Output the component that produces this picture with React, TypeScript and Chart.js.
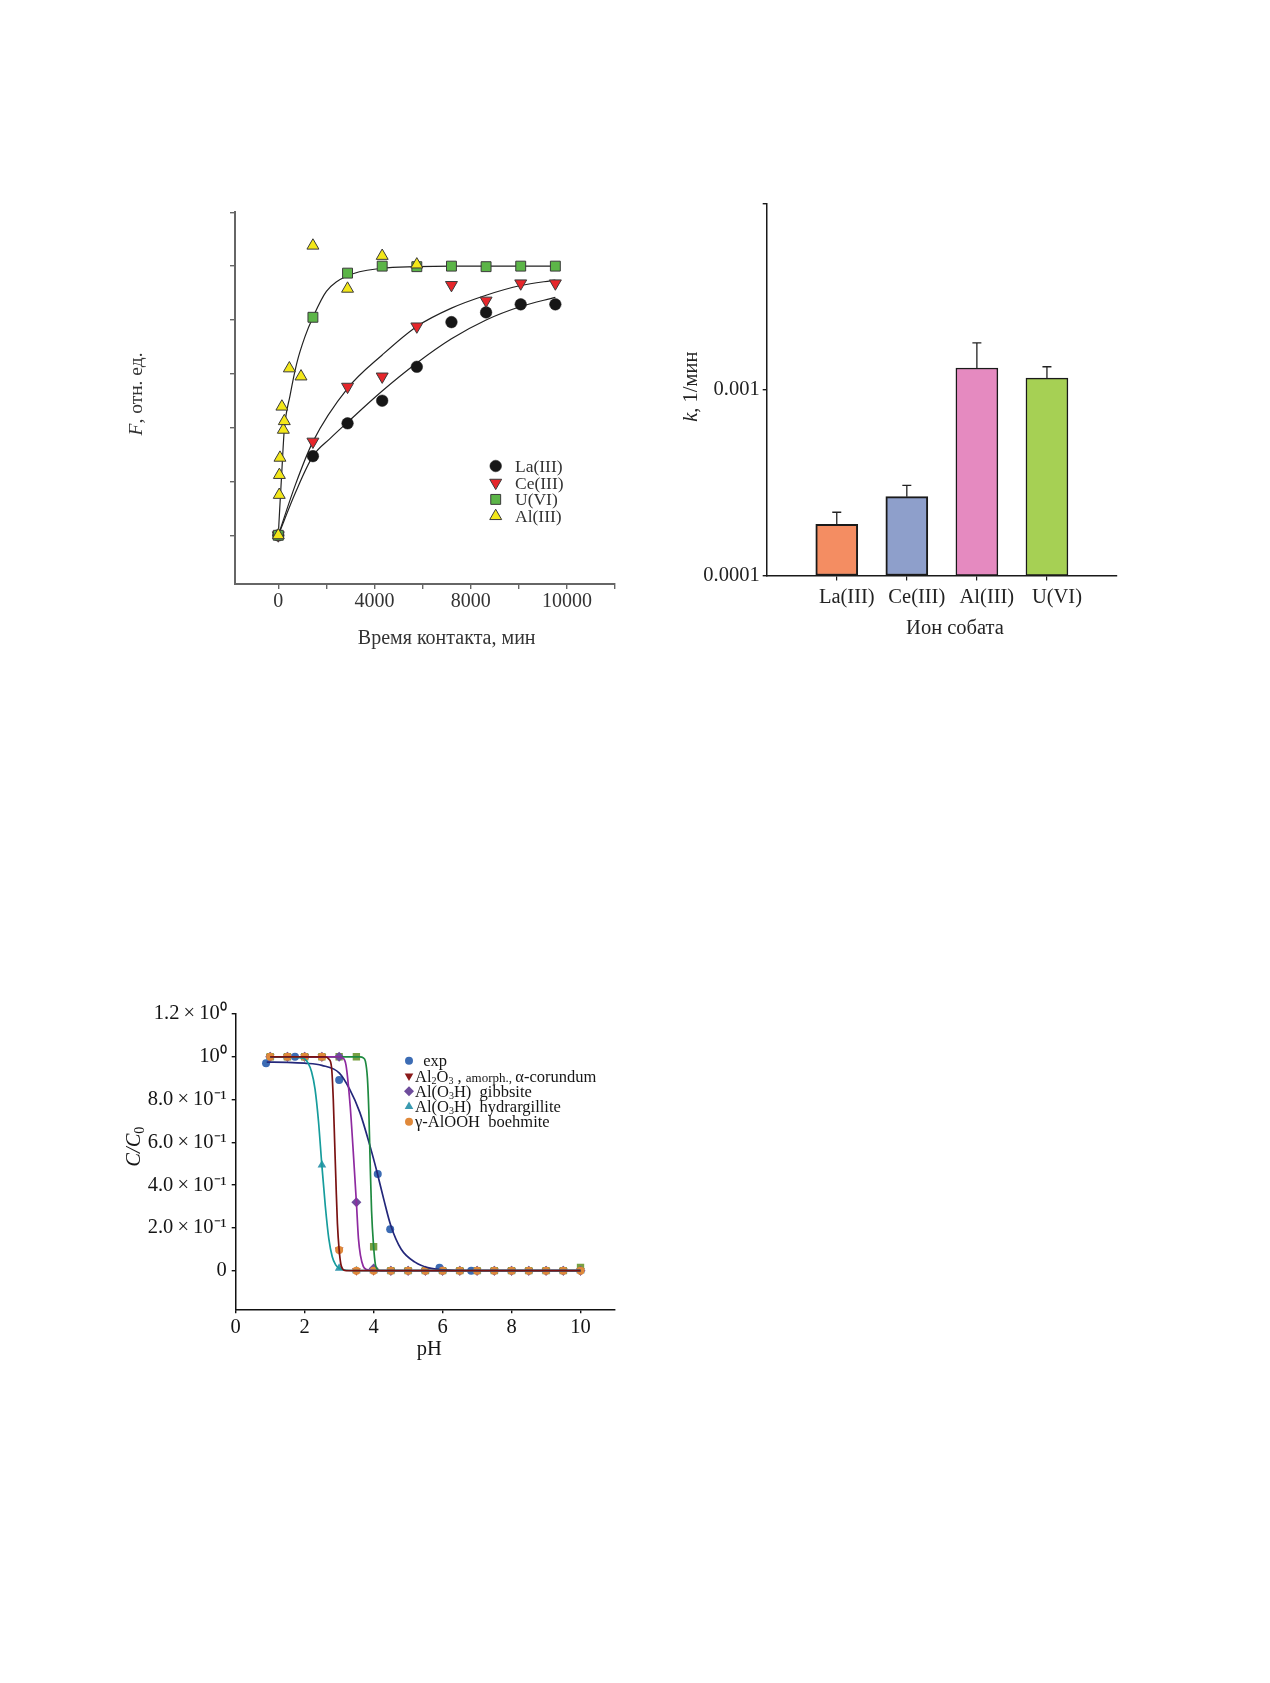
import React, { useEffect, useRef } from 'react';
import { Chart, registerables } from 'chart.js';
import { drawPoint } from 'chart.js/helpers';

Chart.register(...registerables);

const FONT = "'Liberation Serif', 'Times New Roman', Times, serif";

// ---------- Figure 1: kinetics (F vs contact time) ----------
const kinTimes = [0, 1440, 2880, 4320, 5760, 7200, 8640, 10080, 11520];
const laValues = [0, 1.47, 2.08, 2.5, 3.13, 3.96, 4.14, 4.29, 4.29];
const ceValues = [0, 1.74, 2.76, 2.95, 3.88, 4.65, 4.36, 4.68, 4.68];
const uValues = [0, 4.05, 4.87, 5.0, 4.99, 5.0, 4.99, 5.0, 5.0];
const alTimes = [0, 40, 45, 70, 150, 210, 250, 460, 945, 1440, 2880, 4320, 5760];
const alValues = [0, 0.75, 1.12, 1.44, 2.39, 1.96, 2.12, 3.1, 2.95, 5.38, 4.58, 5.19, 5.03];
const laFitTimes = [0, 720, 1440, 2160, 2880, 4320, 5760, 7200, 8640, 10080, 11520];
const laFitValues = [0, 0.8, 1.47, 1.8, 2.1, 2.68, 3.2, 3.65, 4.0, 4.25, 4.42];
const ceFitTimes = [0, 720, 1440, 2880, 4320, 5760, 7200, 8640, 10080, 11520];
const ceFitValues = [0, 0.95, 1.74, 2.73, 3.35, 3.88, 4.22, 4.46, 4.64, 4.74];
const uFitTimes = [0, 60, 130, 250, 490, 770, 1110, 1440, 2000, 2880, 4300, 5760, 7200, 8640, 10080, 11520];
const uFitValues = [0, 0.5, 1.05, 1.96, 2.6, 3.2, 3.69, 4.05, 4.53, 4.82, 4.96, 4.99, 5.0, 5.0, 5.0, 5.0];
const kinXTickValues = [0, 2000, 4000, 6000, 8000, 10000, 12000, 14000];
const kinXLabelValues = [0, 4000, 8000, 12000];
const kinXLabelTexts = ['0', '4000', '8000', '10000'];
const kinYTickValues = [0, 1, 2, 3, 4, 5, 6];
const kinLegendLabels = ['La(III)', 'Ce(III)', 'U(VI)', 'Al(III)'];

// ---------- Figure 2: rate constants ----------
const ionCategories = ['La(III)', 'Ce(III)', 'Al(III)', 'U(VI)'];
const rateValues = [1.886e-4, 2.656e-4, 1.309e-3, 1.156e-3];
const rateErrorTops = [2.19e-4, 3.055e-4, 1.79e-3, 1.33e-3];
const rateTickValues = [1e-4, 1e-3, 1e-2];
const rateTickLabels = ['0.0001', '0.001', ''];

// ---------- Figure 3: C/C0 vs pH ----------
const phPoints = [1.0, 1.5, 2.0, 2.5, 3.0, 3.5, 4.0, 4.5, 5.0, 5.5, 6.0, 6.5, 7.0, 7.5, 8.0, 8.5, 9.0, 9.5, 10.0];
const corundumValues = [1, 1, 1, 1, 0.097, 0, 0, 0, 0, 0, 0, 0, 0, 0, 0, 0, 0, 0, 0];
const gibbsiteValues = [1, 1, 1, 1, 1, 0.32, 0.01, 0, 0, 0, 0, 0, 0, 0, 0, 0, 0, 0, 0];
const hydrargilliteValues = [1, 1, 1, 0.494, 0.011, 0, 0, 0, 0, 0, 0, 0, 0, 0, 0, 0, 0, 0, 0];
const boehmiteValues = [1, 1, 1, 1, 0.097, 0, 0, 0, 0, 0, 0, 0, 0, 0, 0, 0, 0, 0, 0];
const greenValues = [1, 1, 1, 1, 1, 1, 0.112, 0, 0, 0, 0, 0, 0, 0, 0, 0, 0, 0, 0.015];
const expPh = [0.88, 1.72, 3.0, 4.12, 4.48, 5.91, 6.83];
const expValues = [0.97, 1.0, 0.892, 0.452, 0.194, 0.014, 0.0];
const expFitPh = [0.9, 1.5, 2.0, 2.5, 3.0, 3.3, 3.6, 3.9, 4.1, 4.3, 4.5, 4.8, 5.2, 5.6, 6.0, 7.0, 10.0];
const expFitValues = [0.975, 0.974, 0.97, 0.96, 0.925, 0.85, 0.74, 0.58, 0.46, 0.33, 0.21, 0.1, 0.04, 0.013, 0.004, 0, 0];
const hydFitPh = [1.0, 1.9, 2.0, 2.1, 2.2, 2.3, 2.4, 2.5, 2.6, 2.7, 2.8, 2.9, 3.0, 3.2, 3.4, 10.0];
const hydFitValues = [1, 0.995, 0.99, 0.97, 0.93, 0.85, 0.7, 0.49, 0.3, 0.15, 0.065, 0.027, 0.011, 0.002, 0, 0];
const corFitPh = [1.0, 2.6, 2.7, 2.78, 2.83, 2.87, 2.91, 2.95, 3.0, 3.05, 3.1, 3.2, 10.0];
const corFitValues = [1, 1, 0.99, 0.95, 0.8, 0.6, 0.4, 0.22, 0.097, 0.03, 0.008, 0, 0];
const gibFitPh = [1.0, 3.0, 3.1, 3.2, 3.32, 3.4, 3.5, 3.56, 3.62, 3.7, 3.8, 4.0, 10.0];
const gibFitValues = [1, 1, 0.995, 0.96, 0.77, 0.58, 0.32, 0.15, 0.07, 0.02, 0.005, 0, 0];
const grnFitPh = [1.0, 3.6, 3.7, 3.76, 3.82, 3.86, 3.9, 3.94, 4.0, 4.05, 4.1, 4.2, 10.0];
const grnFitValues = [1, 1, 0.995, 0.98, 0.9, 0.75, 0.5, 0.28, 0.112, 0.03, 0.008, 0, 0];
const phTickValues = [0, 2, 4, 6, 8, 10];
const phTickLabels = ['0', '2', '4', '6', '8', '10'];
const ratioTickValues = [0, 0.2, 0.4, 0.6, 0.8, 1.0, 1.2];
const ratioTickLabels = ['0', '2.0\u2009×\u200910⁻¹', '4.0\u2009×\u200910⁻¹', '6.0\u2009×\u200910⁻¹', '8.0\u2009×\u200910⁻¹', '10⁰', '1.2\u2009×\u200910⁰'];

// ---------- styles ----------
const barColors = ['#F48D62', '#8E9FCB', '#E58AC0', '#A6D054'];
const barBorderWidths = [2, 2, 1.5, 1.5];

type Seg = { t: string; size?: number; italic?: boolean; dy?: number };
type TextItem = { segs: Seg[]; x: number; y: number; size: number; rotate?: boolean; align?: 'left' | 'center'; color: string };

function drawRich(ctx: CanvasRenderingContext2D, item: TextItem) {
  ctx.save();
  ctx.translate(item.x, item.y);
  if (item.rotate) ctx.rotate(-Math.PI / 2);
  ctx.textBaseline = 'alphabetic';
  ctx.textAlign = 'left';
  ctx.fillStyle = item.color;
  const fonts = item.segs.map((s) => `${s.italic ? 'italic ' : ''}${s.size ?? item.size}px ${FONT}`);
  const widths = item.segs.map((s, i) => {
    ctx.font = fonts[i];
    return ctx.measureText(s.t).width;
  });
  const total = widths.reduce((a, b) => a + b, 0);
  let cx = item.align === 'left' ? 0 : -total / 2;
  const base = item.size * 0.34;
  item.segs.forEach((s, i) => {
    ctx.font = fonts[i];
    ctx.fillText(s.t, cx, base + (s.dy ?? 0));
    cx += widths[i];
  });
  ctx.restore();
}

function marker(ctx: CanvasRenderingContext2D, style: string, x: number, y: number, radius: number, fill: string, stroke: string, bw: number, rotation = 0) {
  ctx.save();
  ctx.fillStyle = fill;
  ctx.strokeStyle = stroke;
  ctx.lineWidth = bw;
  drawPoint(ctx, { pointStyle: style as any, rotation, radius, borderWidth: bw } as any, x, y);
  ctx.restore();
}

const pts = (xs: number[], ys: number[]) => xs.map((x, i) => ({ x, y: ys[i] }));

function axisStyle(color: string, width: number, tickLen: number) {
  return {
    grid: { display: true, drawOnChartArea: false, drawTicks: true, tickLength: tickLen, color, lineWidth: 1.4 },
    border: { display: true, color, width },
  };
}

// ---------- Chart configs ----------
function kineticsConfig(): any {
  const axisColor = '#666666';
  const textColor = '#333333';
  return {
    type: 'scatter',
    data: {
      datasets: [
        { data: pts(alTimes, alValues), pointStyle: 'triangle', pointRadius: 6.9, backgroundColor: '#F3E719', borderColor: '#3a3a3a', borderWidth: 1 },
        { data: pts(kinTimes, uValues), pointStyle: 'rect', pointRadius: 7.0, backgroundColor: '#5CB548', borderColor: '#3a3a3a', borderWidth: 1 },
        { data: pts(kinTimes, ceValues), pointStyle: 'triangle', pointRotation: 180, pointRadius: 6.9, backgroundColor: '#E6262B', borderColor: '#3a3a3a', borderWidth: 1 },
        { data: pts(kinTimes, laValues), pointStyle: 'circle', pointRadius: 5.8, backgroundColor: '#161616', borderColor: '#161616', borderWidth: 0.5 },
        { data: pts(uFitTimes, uFitValues), showLine: true, pointRadius: 0, borderColor: '#222', borderWidth: 1.2, cubicInterpolationMode: 'monotone' },
        { data: pts(ceFitTimes, ceFitValues), showLine: true, pointRadius: 0, borderColor: '#222', borderWidth: 1.2, cubicInterpolationMode: 'monotone' },
        { data: pts(laFitTimes, laFitValues), showLine: true, pointRadius: 0, borderColor: '#222', borderWidth: 1.2, cubicInterpolationMode: 'monotone' },
      ],
    },
    options: {
      animation: false,
      responsive: true,
      maintainAspectRatio: false,
      events: [],
      layout: { autoPadding: false, padding: { top: 22.3, right: 25, left: 0, bottom: 0 } },
      plugins: { legend: { display: false }, tooltip: { enabled: false } },
      scales: {
        x: {
          type: 'linear', min: -1800, max: 14000,
          afterBuildTicks: (s: any) => { s.ticks = kinXTickValues.map((v) => ({ value: v })); },
          afterFit: (s: any) => { s.height = 86; },
          ticks: {
            autoSkip: false, maxRotation: 0, padding: 1, color: textColor, font: { family: FONT, size: 20 },
            callback: (v: number) => { const i = kinXLabelValues.indexOf(v); return i >= 0 ? kinXLabelTexts[i] : ''; },
          },
          ...axisStyle(axisColor, 2, 5),
        },
        y: {
          type: 'linear', min: -0.905, max: 6,
          afterBuildTicks: (s: any) => { s.ticks = kinYTickValues.map((v) => ({ value: v })); },
          afterFit: (s: any) => { s.width = 135; },
          ticks: { display: false },
          ...axisStyle(axisColor, 2, 5),
        },
      },
    },
    plugins: [{
      id: 'decor',
      afterDraw(chart: any) {
        const ctx = chart.ctx as CanvasRenderingContext2D;
        drawRich(ctx, { segs: [{ t: 'F', italic: true }, { t: ', отн. ед.' }], x: 35, y: 204, size: 19.5, rotate: true, color: textColor });
        drawRich(ctx, { segs: [{ t: 'Время контакта, мин' }], x: 346.7, y: 447, size: 20, color: textColor });
        const rowY = [276, 292.7, 309.4, 326.1];
        const mk = [
          () => marker(ctx, 'circle', 395.7, rowY[0], 5.8, '#161616', '#161616', 0.5),
          () => marker(ctx, 'triangle', 395.7, rowY[1], 6.9, '#E6262B', '#3a3a3a', 1, 180),
          () => marker(ctx, 'rect', 395.7, rowY[2], 7.0, '#5CB548', '#3a3a3a', 1),
          () => marker(ctx, 'triangle', 395.7, rowY[3], 6.9, '#F3E719', '#3a3a3a', 1),
        ];
        kinLegendLabels.forEach((lab, i) => {
          mk[i]();
          drawRich(ctx, { segs: [{ t: lab }], x: 415, y: rowY[i], size: 17.5, align: 'left', color: textColor });
        });
      },
    }],
  };
}

function rateConfig(): any {
  const axisColor = '#1a1a1a';
  const textColor = '#222222';
  return {
    type: 'bar',
    data: {
      datasets: [{
        data: pts(ionCategories.map((_, i) => i + 1), rateValues),
        backgroundColor: barColors,
        borderColor: '#1a1a1a',
        borderWidth: barBorderWidths,
        borderSkipped: false,
        barThickness: 42,
      }],
    },
    options: {
      animation: false,
      responsive: true,
      maintainAspectRatio: false,
      events: [],
      layout: { autoPadding: false, padding: { top: 24, right: 43, left: 0, bottom: 0 } },
      plugins: { legend: { display: false }, tooltip: { enabled: false } },
      scales: {
        x: {
          type: 'linear', min: 0, max: 5, offset: false,
          afterBuildTicks: (s: any) => { s.ticks = ionCategories.map((_, i) => ({ value: i + 1 })); },
          afterFit: (s: any) => { s.height = 84.5; },
          ticks: {
            autoSkip: false, maxRotation: 0, padding: 4.5, labelOffset: 10, color: textColor, font: { family: FONT, size: 20.5 },
            callback: (_v: number, i: number) => ionCategories[i],
          },
          ...axisStyle(axisColor, 1.5, 5),
          grid: { display: true, offset: false, drawOnChartArea: false, drawTicks: true, tickLength: 5, color: axisColor, lineWidth: 1.2 },
        },
        y: {
          type: 'logarithmic', min: 1e-4, max: 1e-2,
          afterBuildTicks: (s: any) => { s.ticks = rateTickValues.map((v) => ({ value: v })); },
          afterFit: (s: any) => { s.width = 126.7; },
          ticks: {
            autoSkip: false, padding: 3, color: textColor, font: { family: FONT, size: 20.5 },
            callback: (_v: number, i: number) => rateTickLabels[i],
          },
          ...axisStyle(axisColor, 1.5, 4),
        },
      },
    },
    plugins: [{
      id: 'decor',
      afterDatasetsDraw(chart: any) {
        const ctx = chart.ctx as CanvasRenderingContext2D;
        const xs = chart.scales.x;
        const ys = chart.scales.y;
        ctx.save();
        ctx.strokeStyle = '#222';
        ctx.lineWidth = 1.3;
        rateValues.forEach((v, i) => {
          const x = xs.getPixelForValue(i + 1);
          const y0 = ys.getPixelForValue(v);
          const y1 = ys.getPixelForValue(rateErrorTops[i]);
          ctx.beginPath();
          ctx.moveTo(x, y0);
          ctx.lineTo(x, y1);
          ctx.moveTo(x - 4.5, y1);
          ctx.lineTo(x + 4.5, y1);
          ctx.stroke();
        });
        ctx.restore();
      },
      afterDraw(chart: any) {
        const ctx = chart.ctx as CanvasRenderingContext2D;
        drawRich(ctx, { segs: [{ t: 'k', italic: true }, { t: ', 1/мин' }], x: 50, y: 206.7, size: 20.5, rotate: true, color: textColor });
        drawRich(ctx, { segs: [{ t: 'Ион собата' }], x: 315, y: 447, size: 20.5, color: textColor });
      },
    }],
  };
}

function phConfig(): any {
  const axisColor = '#111111';
  const textColor = '#151515';
  const c = {
    expPt: '#3C6CB4', expLine: '#23277A',
    cor: '#8B1A1A', corLine: '#7A1212',
    gib: '#6E4C9C', gibLine: '#8E2AA0',
    hyd: '#3A9AB0', hydLine: '#169C9C',
    boe: '#E0893A',
    grn: '#79A043', grnLine: '#1E8A40',
  };
  const line = (xs: number[], ys: number[], color: string) => ({
    data: pts(xs, ys), showLine: true, pointRadius: 0, borderColor: color, borderWidth: 1.7, cubicInterpolationMode: 'monotone',
  });
  const dots = (xs: number[], ys: number[], style: string, color: string, r: number, rot = 0) => ({
    data: pts(xs, ys), pointStyle: style, pointRotation: rot, pointRadius: r, backgroundColor: color, borderColor: color, borderWidth: 0,
  });
  return {
    type: 'scatter',
    data: {
      datasets: [
        line(corFitPh, corFitValues, c.corLine),
        line(hydFitPh, hydFitValues, c.hydLine),
        line(gibFitPh, gibFitValues, c.gibLine),
        line(grnFitPh, grnFitValues, c.grnLine),
        line(expFitPh, expFitValues, c.expLine),
        dots(phPoints, boehmiteValues, 'circle', c.boe, 4.0),
        dots(phPoints, gibbsiteValues, 'rectRot', c.gib, 5.0),
        dots(phPoints, hydrargilliteValues, 'triangle', c.hyd, 5.0),
        dots(expPh, expValues, 'circle', c.expPt, 4.0),
        dots(phPoints, greenValues, 'rect', c.grn, 5.2),
        dots(phPoints, corundumValues, 'triangle', c.cor, 5.0, 180),
      ],
    },
    options: {
      animation: false,
      responsive: true,
      maintainAspectRatio: false,
      events: [],
      layout: { autoPadding: false, padding: { top: 24, right: 25, left: 0, bottom: 0 } },
      plugins: { legend: { display: false }, tooltip: { enabled: false } },
      scales: {
        x: {
          type: 'linear', min: 0, max: 11,
          afterBuildTicks: (s: any) => { s.ticks = phTickValues.map((v) => ({ value: v })); },
          afterFit: (s: any) => { s.height = 80.7; },
          ticks: {
            autoSkip: false, maxRotation: 0, padding: 2.5, color: textColor, font: { family: FONT, size: 20.5 },
            callback: (_v: number, i: number) => phTickLabels[i],
          },
          ...axisStyle(axisColor, 1.5, 4),
        },
        y: {
          type: 'linear', min: -0.1805, max: 1.2,
          afterBuildTicks: (s: any) => { s.ticks = ratioTickValues.map((v) => ({ value: v })); },
          afterFit: (s: any) => { s.width = 135.7; },
          ticks: {
            autoSkip: false, padding: 5, color: textColor, font: { family: FONT, size: 20.5 },
            callback: (_v: number, i: number) => ratioTickLabels[i],
          },
          ...axisStyle(axisColor, 1.5, 4),
        },
      },
    },
    plugins: [{
      id: 'decor',
      afterDraw(chart: any) {
        const ctx = chart.ctx as CanvasRenderingContext2D;
        drawRich(ctx, { segs: [{ t: 'C/C', italic: true }, { t: '0', size: 14, dy: 4 }], x: 33.3, y: 156.7, size: 20.5, rotate: true, color: textColor });
        drawRich(ctx, { segs: [{ t: 'pH' }], x: 329.3, y: 358.3, size: 20.5, color: textColor });
        const rowY = [70.7, 85.9, 101.2, 116.4, 131.7];
        const mx = 309;
        marker(ctx, 'circle', mx, rowY[0], 4, c.expPt, c.expPt, 0);
        marker(ctx, 'triangle', mx, rowY[1], 5, c.cor, c.cor, 0, 180);
        marker(ctx, 'rectRot', mx, rowY[2], 5, c.gib, c.gib, 0);
        marker(ctx, 'triangle', mx, rowY[3], 5, c.hyd, c.hyd, 0);
        marker(ctx, 'circle', mx, rowY[4], 4, c.boe, c.boe, 0);
        const sub = (t: string): Seg => ({ t, size: 10, dy: 2 });
        const legendSegs: Seg[][] = [
          [{ t: '  exp' }],
          [{ t: 'Al' }, sub('2'), { t: 'O' }, sub('3'), { t: ' , ' }, { t: 'amorph., ', size: 13 }, { t: 'α-corundum' }],
          [{ t: 'Al(O' }, sub('3'), { t: 'H)  gibbsite' }],
          [{ t: 'Al(O' }, sub('3'), { t: 'H)  hydrargillite' }],
          [{ t: 'γ-AlOOH  boehmite' }],
        ];
        legendSegs.forEach((segs, i) => {
          drawRich(ctx, { segs, x: 315, y: rowY[i], size: 16.5, align: 'left', color: textColor });
        });
      },
    }],
  };
}

function ChartBox({ left, top, width, height, make }: { left: number; top: number; width: number; height: number; make: () => any }) {
  const ref = useRef<HTMLCanvasElement | null>(null);
  useEffect(() => {
    if (!ref.current) return;
    const chart = new Chart(ref.current, make());
    return () => chart.destroy();
  }, []);
  return (
    <div style={{ position: 'absolute', left, top, width, height }}>
      <canvas ref={ref} />
    </div>
  );
}

export default function App() {
  return (
    <div style={{ position: 'absolute', left: 0, top: 0, width: 1270, height: 1683, background: '#ffffff', overflow: 'hidden' }}>
      <ChartBox left={100} top={190} width={540} height={480} make={kineticsConfig} />
      <ChartBox left={640} top={180} width={520} height={480} make={rateConfig} />
      <ChartBox left={100} top={990} width={540} height={400} make={phConfig} />
    </div>
  );
}
